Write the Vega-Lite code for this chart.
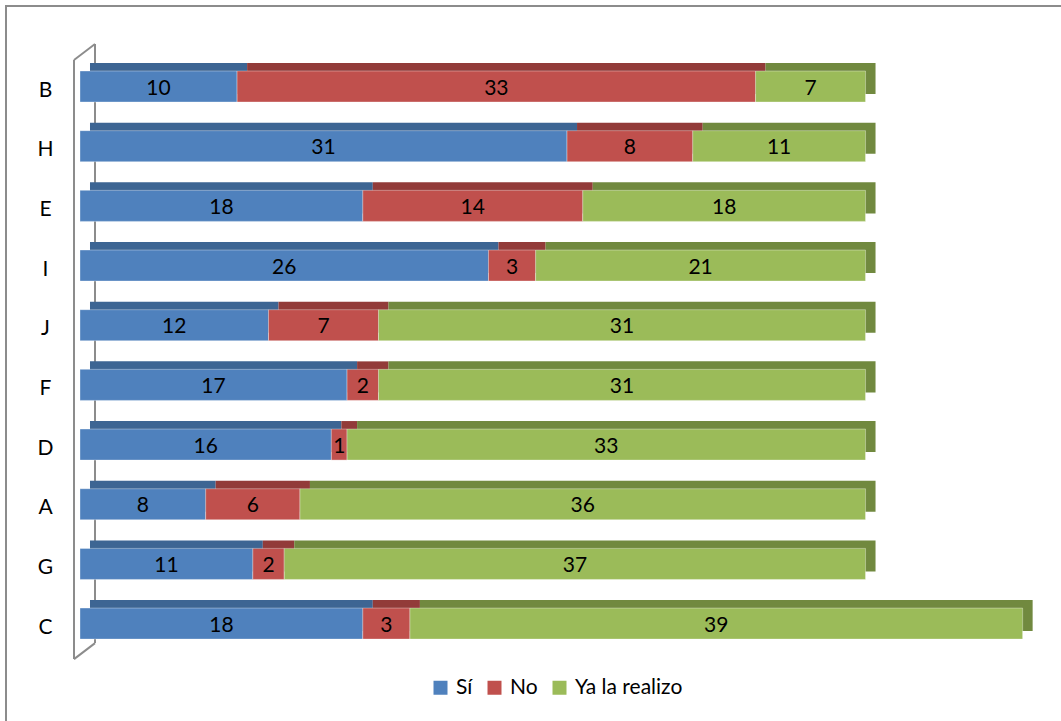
{
  "$schema": "https://vega.github.io/schema/vega-lite/v6.json",
  "width": 1060,
  "height": 720,
  "autosize": {"type": "none"},
  "padding": {"left": 6, "top": 6, "right": 0, "bottom": 0},
  "background": "white",
  "config": {"view": {"stroke": "#8c8c8c", "strokeWidth": 2}, "font": "Lato"},
  "layer": [
    {
      "data": {"values": [{}]},
      "layer": [
        {"mark": {"type": "rule", "color": "#8c8c8c", "strokeWidth": 2, "xOffset": -6, "x2Offset": -6, "yOffset": -26.5, "y2Offset": 35.5},
         "encoding": {"x": {"datum": 0, "type": "quantitative"}, "y": {"datum": "B", "type": "nominal"}, "y2": {"datum": "C"}}},
        {"mark": {"type": "rule", "color": "#8c8c8c", "strokeWidth": 2, "xOffset": 15, "x2Offset": 15, "yOffset": -42.5, "y2Offset": 19.5},
         "encoding": {"x": {"datum": 0, "type": "quantitative"}, "y": {"datum": "B", "type": "nominal"}, "y2": {"datum": "C"}}},
        {"mark": {"type": "rule", "color": "#8c8c8c", "strokeWidth": 2, "xOffset": -6, "x2Offset": 15, "yOffset": -26.5, "y2Offset": -42.5},
         "encoding": {"x": {"datum": 0, "type": "quantitative"}, "x2": {"datum": 0}, "y": {"datum": "B", "type": "nominal"}, "y2": {"datum": "B"}}},
        {"mark": {"type": "rule", "color": "#8c8c8c", "strokeWidth": 2, "xOffset": -6, "x2Offset": 15, "yOffset": 35.5, "y2Offset": 19.5},
         "encoding": {"x": {"datum": 0, "type": "quantitative"}, "x2": {"datum": 0}, "y": {"datum": "C", "type": "nominal"}, "y2": {"datum": "C"}}}
      ]
    },
    {
      "data": {"values": [
        {"c": "B", "s": "Sí", "v": 10}, {"c": "B", "s": "No", "v": 33}, {"c": "B", "s": "Ya la realizo", "v": 7},
        {"c": "H", "s": "Sí", "v": 31}, {"c": "H", "s": "No", "v": 8}, {"c": "H", "s": "Ya la realizo", "v": 11},
        {"c": "E", "s": "Sí", "v": 18}, {"c": "E", "s": "No", "v": 14}, {"c": "E", "s": "Ya la realizo", "v": 18},
        {"c": "I", "s": "Sí", "v": 26}, {"c": "I", "s": "No", "v": 3}, {"c": "I", "s": "Ya la realizo", "v": 21},
        {"c": "J", "s": "Sí", "v": 12}, {"c": "J", "s": "No", "v": 7}, {"c": "J", "s": "Ya la realizo", "v": 31},
        {"c": "F", "s": "Sí", "v": 17}, {"c": "F", "s": "No", "v": 2}, {"c": "F", "s": "Ya la realizo", "v": 31},
        {"c": "D", "s": "Sí", "v": 16}, {"c": "D", "s": "No", "v": 1}, {"c": "D", "s": "Ya la realizo", "v": 33},
        {"c": "A", "s": "Sí", "v": 8}, {"c": "A", "s": "No", "v": 6}, {"c": "A", "s": "Ya la realizo", "v": 36},
        {"c": "G", "s": "Sí", "v": 11}, {"c": "G", "s": "No", "v": 2}, {"c": "G", "s": "Ya la realizo", "v": 37},
        {"c": "C", "s": "Sí", "v": 18}, {"c": "C", "s": "No", "v": 3}, {"c": "C", "s": "Ya la realizo", "v": 39}
      ]},
      "transform": [
        {"calculate": "indexof(['Sí','No','Ya la realizo'], datum.s)", "as": "o"},
        {"stack": "v", "groupby": ["c"], "sort": [{"field": "o"}], "as": ["x0", "x1"]},
        {"calculate": "(datum.x0 + datum.x1) / 2", "as": "xm"}
      ],
      "layer": [
        {
          "mark": {"type": "bar", "xOffset": 10, "x2Offset": 10, "yOffset": -8, "y2Offset": -8},
          "encoding": {
            "y": {"field": "c", "type": "nominal", "sort": ["B","H","E","I","J","F","D","A","G","C"],
                  "scale": {"range": [65, 633.1], "paddingInner": 0.48, "paddingOuter": 0},
                  "axis": {"title": null, "domain": false, "ticks": false, "labelPadding": 0, "offset": -39, "labelAlign": "center", "labelOffset": 4, "labelFontSize": 21, "labelColor": "#000000", "labelFont": "Lato"}},
            "x": {"field": "x0", "type": "quantitative", "scale": {"domain": [-4.71, 62.76], "nice": false, "zero": false}, "axis": null},
            "x2": {"field": "x1"},
            "color": {"field": "s", "type": "nominal", "scale": {"domain": ["Sí","No","Ya la realizo"], "range": ["#3D6593","#923B39","#71893F"]}, "legend": null}
          }
        },
        {
          "mark": {"type": "bar", "stroke": "#ffffff", "strokeOpacity": 0.35, "strokeWidth": 1},
          "encoding": {
            "y": {"field": "c", "type": "nominal", "sort": ["B","H","E","I","J","F","D","A","G","C"]},
            "x": {"field": "x0", "type": "quantitative"},
            "x2": {"field": "x1"},
            "fill": {"field": "s", "type": "nominal", "scale": {"domain": ["Sí","No","Ya la realizo"], "range": ["#4F81BD","#C0504D","#9BBB59"]},
                     "legend": {"title": null, "orient": "none", "legendX": 424, "legendY": 671, "direction": "horizontal", "symbolType": "square", "symbolSize": 196, "symbolStrokeWidth": 0, "labelFontSize": 21, "labelFont": "Lato", "labelColor": "#000000", "labelOffset": 5, "columnPadding": 11, "padding": 0}}
          }
        },
        {
          "mark": {"type": "text", "fontSize": 21, "font": "Lato", "color": "#000000", "align": "center", "baseline": "middle", "dy": 2},
          "encoding": {
            "y": {"field": "c", "type": "nominal", "sort": ["B","H","E","I","J","F","D","A","G","C"]},
            "x": {"field": "xm", "type": "quantitative"},
            "text": {"field": "v", "type": "quantitative"}
          }
        }
      ]
    }
  ],
  "resolve": {"scale": {"color": "independent"}}
}
